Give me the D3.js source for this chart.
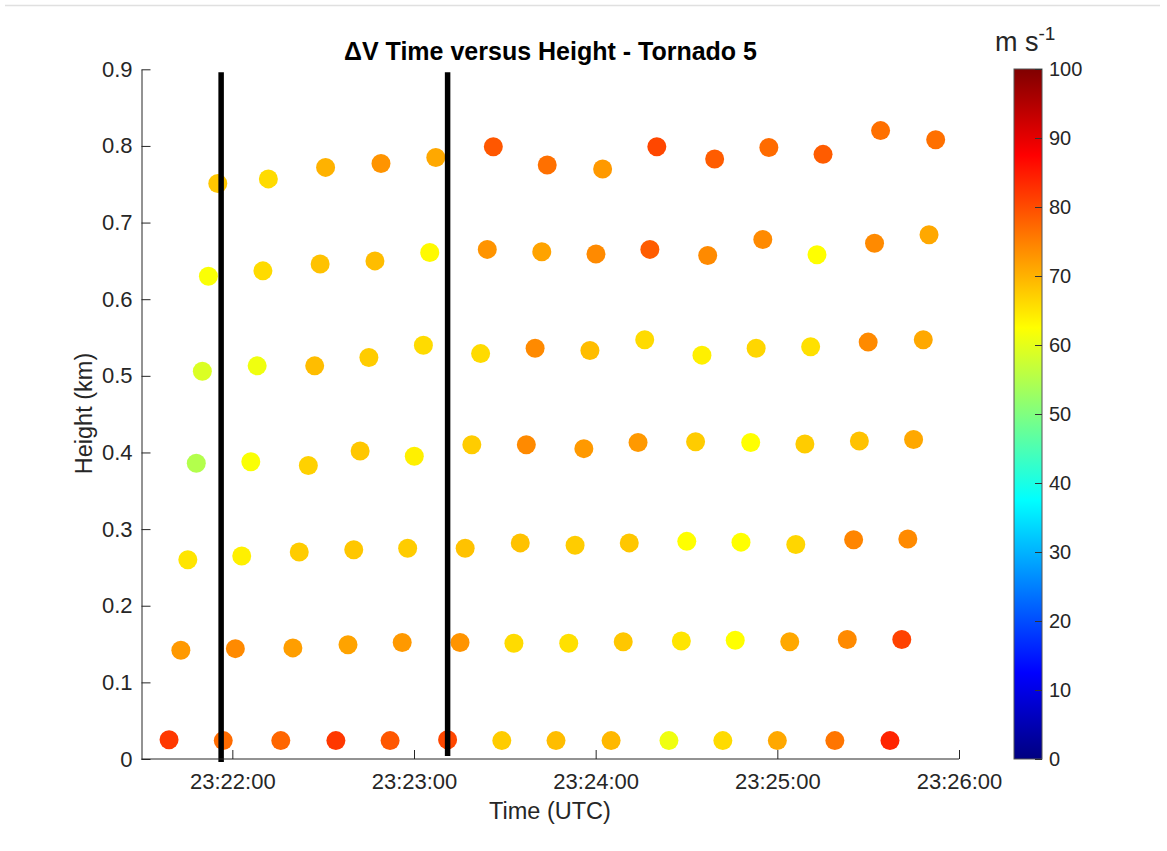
<!DOCTYPE html>
<html>
<head>
<meta charset="utf-8">
<script src="https://cdn.jsdelivr.net/npm/d3@7"></script>
<style>
  html, body { margin: 0; padding: 0; background: #fff; }
  svg { display: block; font-family: "Liberation Sans", Arial, Helvetica, sans-serif; }
</style>
</head>
<body>
<svg id="chart" width="1167" height="851"></svg>
<script>
// Scan times of each elevation sweep, seconds after 23:21:00 UTC (lowest sweep first)
const sweepTimes = [
  [39.1, 57.0, 76.0, 94.2, 112.1, 131.1, 149.0, 166.9, 185.1, 204.2, 222.0, 240.0, 259.0, 277.2],
  [43.0, 61.0, 80.0, 98.2, 116.1, 135.2, 153.0, 171.1, 189.1, 208.3, 226.1, 244.1, 263.1, 281.1],
  [45.3, 63.1, 82.1, 100.1, 117.9, 136.9, 155.1, 173.2, 191.1, 210.1, 228.0, 246.1, 265.2, 283.1],
  [48.1, 66.1, 85.1, 102.2, 120.1, 139.1, 157.1, 176.1, 194.0, 213.0, 231.2, 249.1, 267.1, 285.0],
  [50.1, 68.2, 87.2, 105.1, 123.1, 142.0, 160.0, 178.1, 196.2, 215.1, 233.0, 251.0, 270.0, 288.2],
  [52.1, 70.1, 89.0, 107.1, 125.2, 144.2, 162.2, 180.1, 197.9, 217.0, 235.2, 253.1, 272.1, 290.1],
  [55.2, 71.9, 90.8, 109.1, 127.2, 146.2, 164.0, 182.3, 200.2, 219.3, 237.2, 255.1, 274.1, 292.3]
];

// Height of the vortex centre for each sweep (km)
const sweepHeights = [
  [0.025, 0.024, 0.024, 0.024, 0.024, 0.025, 0.024, 0.024, 0.024, 0.024, 0.024, 0.024, 0.024, 0.024],
  [0.142, 0.144, 0.145, 0.149, 0.152, 0.152, 0.151, 0.151, 0.153, 0.154, 0.155, 0.153, 0.156, 0.156],
  [0.260, 0.265, 0.270, 0.273, 0.275, 0.275, 0.282, 0.279, 0.282, 0.284, 0.283, 0.280, 0.286, 0.287],
  [0.386, 0.388, 0.383, 0.402, 0.395, 0.410, 0.410, 0.405, 0.413, 0.414, 0.413, 0.411, 0.415, 0.417],
  [0.506, 0.513, 0.513, 0.524, 0.540, 0.529, 0.536, 0.533, 0.547, 0.527, 0.536, 0.538, 0.544, 0.547],
  [0.630, 0.637, 0.646, 0.650, 0.661, 0.665, 0.662, 0.659, 0.665, 0.657, 0.678, 0.658, 0.673, 0.684],
  [0.751, 0.757, 0.772, 0.777, 0.785, 0.799, 0.775, 0.770, 0.799, 0.783, 0.798, 0.789, 0.820, 0.808]
];

// Delta-V (m s-1) for each sweep
const sweepDeltaV = [
  [82, 77, 77.5, 82, 79, 80.5, 67.5, 69, 69.5, 61, 66, 71, 76, 84],
  [72.5, 74, 72, 71.5, 72.5, 73, 66, 65.5, 68, 65, 62.5, 71, 74, 81],
  [65, 64, 67.5, 68, 67.5, 68.5, 68.5, 67.5, 68, 62.5, 62.5, 66.5, 74.5, 74],
  [55, 62, 67, 68, 64, 67.5, 74, 72.5, 72.5, 67.5, 62.5, 67.5, 68.5, 71],
  [59, 61, 69, 67.5, 66, 66, 74, 69, 66, 64, 66.5, 65.5, 74, 71],
  [62, 66, 68.5, 69, 63, 73, 71.5, 74, 78.5, 74, 74, 62.5, 74, 71],
  [68, 66, 70, 73, 71, 79, 76.5, 72.5, 80.5, 78.5, 77, 78.5, 76.5, 76.5]
];

// Vertical reference lines: time (s after 23:21:00) and vertical extent (km)
const refLineTimes = [56.3, 131.1];
const refLineTops = [0.896, 0.896];
const refLineBottoms = [-0.004, 0.004];

const yTicks = [0, 0.1, 0.2, 0.3, 0.4, 0.5, 0.6, 0.7, 0.8, 0.9];
const colorTicks = [0, 10, 20, 30, 40, 50, 60, 70, 80, 90, 100];

const svg = d3.select("#chart");
const textColor = "#262626";

const base = Date.UTC(2020, 0, 1, 23, 21, 0);
const toDate = s => new Date(base + s * 1000);

const x = d3.scaleUtc()
  .domain([toDate(30), toDate(300)])
  .range([141.5, 959]);
const y = d3.scaleLinear()
  .domain([0, 0.9])
  .range([759, 69.3]);

// MATLAB-style jet colormap
const jet = t => {
  const c = v => Math.max(0, Math.min(1, v));
  const r = c(1.5 - Math.abs(4 * t - 3));
  const g = c(1.5 - Math.abs(4 * t - 2));
  const b = c(1.5 - Math.abs(4 * t - 1));
  return d3.rgb(r * 255, g * 255, b * 255).formatHex();
};
const color = d3.scaleSequential(jet).domain([0, 100]);

// faint frame line along the top
svg.append("line")
  .attr("x1", 5).attr("x2", 1160).attr("y1", 5.5).attr("y2", 5.5)
  .attr("stroke", "#e0e0e0").attr("stroke-width", 1.5);

// points
const points = [];
sweepTimes.forEach((row, i) => row.forEach((t, j) => {
  points.push({ t, h: sweepHeights[i][j], v: sweepDeltaV[i][j] });
}));

svg.append("g").selectAll("circle")
  .data(points)
  .join("circle")
  .attr("cx", d => x(toDate(d.t)))
  .attr("cy", d => y(d.h))
  .attr("r", 9.5)
  .attr("fill", d => color(d.v));

// reference lines
svg.append("g").selectAll("line")
  .data(refLineTimes)
  .join("line")
  .attr("x1", d => x(toDate(d)))
  .attr("x2", d => x(toDate(d)))
  .attr("y1", (d, i) => y(refLineTops[i]))
  .attr("y2", (d, i) => y(refLineBottoms[i]))
  .attr("stroke", "#000")
  .attr("stroke-width", 5.5);

// x axis
const xAxis = d3.axisBottom(x)
  .ticks(d3.utcMinute.every(1))
  .tickFormat(d3.utcFormat("%H:%M:%S"))
  .tickSizeInner(-9)
  .tickSizeOuter(0)
  .tickPadding(14);
const gx = svg.append("g")
  .attr("transform", "translate(0,759)")
  .call(xAxis);
gx.select(".domain").attr("d", "M141.5,0H959").attr("stroke", textColor);
gx.selectAll(".tick line").attr("stroke", textColor);
gx.selectAll(".tick text")
  .attr("fill", textColor)
  .attr("font-size", 22)
  .attr("font-family", "Liberation Sans, Arial, sans-serif")
  .attr("dy", "0.71em");

// y axis
const yAxis = d3.axisLeft(y)
  .tickValues(yTicks)
  .tickFormat(d => d === 0 ? "0" : d.toFixed(1))
  .tickSizeInner(-9)
  .tickSizeOuter(0)
  .tickPadding(9);
const gy = svg.append("g")
  .attr("transform", "translate(141.5,0)")
  .call(yAxis);
gy.select(".domain").attr("stroke", textColor);
gy.selectAll(".tick line").attr("stroke", textColor);
gy.selectAll(".tick text")
  .attr("fill", textColor)
  .attr("font-size", 22)
  .attr("font-family", "Liberation Sans, Arial, sans-serif");

// axis labels and title
svg.append("text")
  .attr("x", 550).attr("y", 818.5)
  .attr("text-anchor", "middle")
  .attr("font-size", 23.5)
  .attr("fill", textColor)
  .text("Time (UTC)");

svg.append("text")
  .attr("transform", "translate(92,413.5) rotate(-90)")
  .attr("text-anchor", "middle")
  .attr("font-size", 23.5)
  .attr("fill", textColor)
  .text("Height (km)");

svg.append("text")
  .attr("x", 550.5).attr("y", 60)
  .attr("text-anchor", "middle")
  .attr("font-size", 25)
  .attr("font-weight", "bold")
  .attr("fill", "#000")
  .text("ΔV Time versus Height - Tornado 5");

// colorbar
const cbX = 1014, cbW = 28;
const cbY = d3.scaleLinear().domain([0, 100]).range([759, 69]);
const defs = svg.append("defs");
const grad = defs.append("linearGradient")
  .attr("id", "jetGrad")
  .attr("x1", 0).attr("x2", 0).attr("y1", 1).attr("y2", 0);
grad.selectAll("stop")
  .data(d3.range(0, 101, 2.5))
  .join("stop")
  .attr("offset", d => d / 100)
  .attr("stop-color", d => color(d));

svg.append("rect")
  .attr("x", cbX).attr("y", cbY(100))
  .attr("width", cbW).attr("height", cbY(0) - cbY(100))
  .attr("fill", "url(#jetGrad)")
  .attr("stroke", "#555").attr("stroke-width", 1);

const cbAxis = d3.axisRight(cbY)
  .tickValues(colorTicks)
  .tickSizeInner(-7)
  .tickSizeOuter(0)
  .tickPadding(7);
const gc = svg.append("g")
  .attr("transform", `translate(${cbX + cbW},0)`)
  .call(cbAxis);
gc.select(".domain").remove();
gc.selectAll(".tick line").attr("stroke", "#333");
gc.selectAll(".tick text")
  .attr("fill", textColor)
  .attr("font-size", 20)
  .attr("font-family", "Liberation Sans, Arial, sans-serif");

const cbTitle = svg.append("text")
  .attr("x", 995).attr("y", 51)
  .attr("font-size", 27)
  .attr("fill", textColor);
cbTitle.append("tspan").text("m s");
cbTitle.append("tspan")
  .attr("font-size", 19)
  .attr("dy", -11)
  .text("-1");
</script>
</body>
</html>
